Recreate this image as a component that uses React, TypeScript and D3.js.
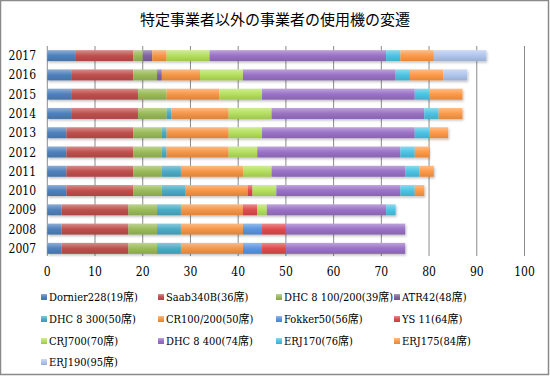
import React from "react";
import * as d3 from "d3";

const years = ["2007", "2008", "2009", "2010", "2011", "2012", "2013", "2014", "2015", "2016", "2017"];
const seriesNames = [
  "Dornier228(19席)", "Saab340B(36席)", "DHC 8 100/200(39席)", "ATR42(48席)",
  "DHC 8 300(50席)", "CR100/200(50席)", "Fokker50(56席)", "YS 11(64席)",
  "CRJ700(70席)", "DHC 8 400(74席)", "ERJ170(76席)", "ERJ175(84席)", "ERJ190(95席)",
];
const dornier228 = [3, 3, 3, 4, 4, 4, 4, 5, 5, 5, 6];
const saab340B = [14, 14, 14, 14, 14, 14, 14, 14, 14, 13, 12];
const dhc8_100 = [6, 6, 6, 6, 6, 6, 6, 6, 6, 5, 2];
const atr42 = [0, 0, 0, 0, 0, 0, 0, 0, 0, 1, 2];
const dhc8_300 = [5, 5, 5, 5, 4, 1, 1, 1, 0, 0, 0];
const cr100 = [13, 13, 13, 13, 13, 13, 13, 12, 11, 8, 3];
const fokker50 = [4, 4, 0, 0, 0, 0, 0, 0, 0, 0, 0];
const ys11 = [5, 5, 3, 1, 0, 0, 0, 0, 0, 0, 0];
const crj700 = [0, 0, 2, 5, 6, 6, 7, 9, 9, 9, 9];
const dhc8_400 = [25, 25, 25, 26, 28, 30, 32, 32, 32, 32, 37];
const erj170 = [0, 0, 2, 3, 3, 3, 3, 3, 3, 3, 3];
const erj175 = [0, 0, 0, 2, 3, 3, 4, 5, 7, 7, 7];
const erj190 = [0, 0, 0, 0, 0, 0, 0, 0, 0, 5, 11];
const seriesValues = [dornier228, saab340B, dhc8_100, atr42, dhc8_300, cr100, fokker50, ys11, crj700, dhc8_400, erj170, erj175, erj190];
const colors = ["#4F81BD", "#C0504D", "#9BBB59", "#8064A2", "#4BACC6", "#F79646", "#5B95E0", "#E04B4E", "#B5E05C", "#9A72C6", "#4CC4E4", "#FF9A48", "#B0C6EE"];
const xTicks = [0, 10, 20, 30, 40, 50, 60, 70, 80, 90, 100];

const W = 550, H = 376;
const serif = "'DejaVu Serif', 'Noto Sans CJK JP', serif";

export default function App() {
  const x = d3.scaleLinear().domain([0, 100]).range([47.3, 524.5]);
  const y = d3.scaleBand<string>().domain([...years].reverse()).range([46, 258]).paddingInner(0.43).paddingOuter(0.215);

  const rows = years.map((yr, i) => {
    const o: any = { year: yr };
    seriesNames.forEach((n, k) => (o[n] = seriesValues[k][i]));
    return o;
  });
  const stacked = d3.stack<any>().keys(seriesNames)(rows);

  const light = (c: string, t: number) => d3.interpolateRgb(c, "#ffffff")(t);
  const dark = (c: string, t: number) => d3.interpolateRgb(c, "#000000")(t);

  const legendCols = [44, 161, 279, 397];
  const legendRows = [297, 319, 341, 362];

  return (
    <svg width={W} height={H} style={{ position: "absolute", left: 0, top: 0, background: "#fff", fontFamily: serif, fontStretch: "condensed" }}>
      <defs>
        {colors.map((c, k) => (
          <linearGradient key={k} id={`g${k}`} x1="0" y1="0" x2="0" y2="1">
            <stop offset="0" stopColor={light(c, 0.35)} />
            <stop offset="0.5" stopColor={c} />
            <stop offset="1" stopColor={dark(c, 0.12)} />
          </linearGradient>
        ))}
        <filter id="sh" x="-5%" y="-20%" width="110%" height="160%">
          <feDropShadow dx="1" dy="1.5" stdDeviation="1" floodColor="#000" floodOpacity="0.25" />
        </filter>
      </defs>
      <rect x={0.5} y={0.5} width={W - 2} height={H - 2} fill="#fff" stroke="#8a8a8a" strokeWidth={1.5} />
      <text x={275} y={25} textAnchor="middle" fontSize={15} fill="#000">
        特定事業者以外の事業者の使用機の変遷
      </text>
      {xTicks.map((t) => (
        <line key={t} x1={x(t)} x2={x(t)} y1={46} y2={256} stroke="#8c8c8c" strokeWidth={1} />
      ))}
      <g filter="url(#sh)">
        {stacked.map((s, k) => (
          <g key={k} fill={`url(#g${k})`}>
            {s.map((d: any, i: number) =>
              d[1] - d[0] > 0 ? (
                <rect key={i} x={x(d[0])} y={y(d.data.year)} width={x(d[1]) - x(d[0])} height={y.bandwidth()} />
              ) : null
            )}
          </g>
        ))}
      </g>
      {years.map((yr) => (
        <text key={yr} x={36} y={(y(yr) as number) + y.bandwidth() / 2 + 4.5} textAnchor="end" fontSize={12} fill="#000">
          {yr}
        </text>
      ))}
      {xTicks.map((t) => (
        <text key={t} x={x(t)} y={276} textAnchor="middle" fontSize={12} fill="#000">
          {t}
        </text>
      ))}
      {seriesNames.map((n, k) => {
        const cx = legendCols[k % 4];
        const cy = legendRows[Math.floor(k / 4)];
        return (
          <g key={n}>
            <rect x={cx - 3} y={cy - 3} width={6} height={6} fill={`url(#g${k})`} />
            <text x={cx + 5} y={cy + 4} fontSize={11} fill="#000">
              {n}
            </text>
          </g>
        );
      })}
    </svg>
  );
}
